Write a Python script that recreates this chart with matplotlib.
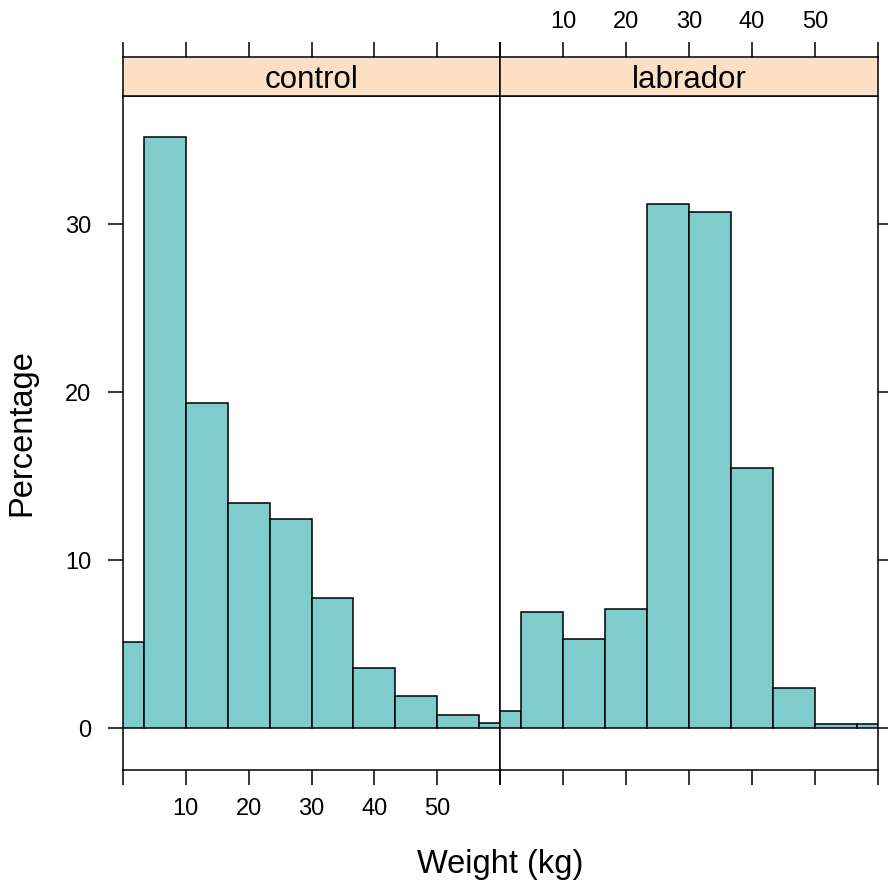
import numpy as np
import matplotlib.pyplot as plt

plt.rcParams['font.family'] = ['Liberation Sans', 'DejaVu Sans']

# data (percent of dogs per weight bin)
groups = ['control', 'labrador']
bin_edges = [-3.33, 3.33, 10.0, 16.67, 23.33, 30.0, 36.67, 43.33, 50.0, 56.67, 63.33]
control_pct = [5.1, 35.2, 19.35, 13.4, 12.45, 7.75, 3.55, 1.9, 0.77, 0.3]
labrador_pct = [1.0, 6.9, 5.3, 7.1, 31.2, 30.7, 15.5, 2.4, 0.24, 0.24]
x_ticks = [0, 10, 20, 30, 40, 50, 60]
x_labels = ['', '10', '20', '30', '40', '50', '']
y_ticks = [0, 10, 20, 30]

fill = '#7ECDCC'
strip_col = '#FDDFC5'
W, H = 888, 884


def box(l, t, r, b):
    # pixel box -> figure fraction
    return [l / W, 1 - b / H, (r - l) / W, (b - t) / H]


fig = plt.figure(figsize=(W / 100, H / 100), dpi=100)

panels = [(123, 500), (500, 878)]
series = [control_pct, labrador_pct]
lefts = np.array(bin_edges[:-1])
widths = np.diff(bin_edges)
tick_len = 10.5
lw = 1.1
tick_fs = 17

for k, (name, vals) in enumerate(zip(groups, series)):
    l, r = panels[k]
    ax = fig.add_axes(box(l, 96, r, 770))
    ax.bar(lefts, vals, width=widths, align='edge', color=fill,
           edgecolor='black', linewidth=lw)
    ax.set_xlim(0, 60)
    ax.set_ylim(-2.5, 37.62)
    for s in ax.spines.values():
        s.set_linewidth(lw)
    ax.set_xticks(x_ticks)
    ax.set_yticks(y_ticks)
    ax.tick_params(length=tick_len, width=lw, labelsize=tick_fs)
    ax.tick_params(axis='x', pad=9.5)
    ax.tick_params(axis='y', pad=12.5)
    if k == 0:
        ax.set_xticklabels(x_labels)
        ax.tick_params(axis='y', left=True, labelleft=True, right=False)
    else:
        ax.set_xticklabels([])
        ax.tick_params(axis='y', left=False, labelleft=False,
                       right=True, labelright=False)

    # strip on top of the panel
    st = fig.add_axes(box(l, 57, r, 96))
    st.set_facecolor(strip_col)
    st.set_xlim(0, 60)
    st.set_ylim(0, 1)
    st.set_yticks([])
    st.set_xticks(x_ticks)
    for s in st.spines.values():
        s.set_linewidth(lw)
    st.tick_params(axis='x', bottom=False, labelbottom=False, top=True,
                   length=tick_len, width=lw, labelsize=tick_fs, pad=6.5)
    if k == 1:
        st.tick_params(axis='x', labeltop=True)
        st.set_xticklabels(x_labels)
    else:
        st.tick_params(axis='x', labeltop=False)
    st.text(0.5, 0.205, name, transform=st.transAxes, ha='center',
            va='baseline', fontsize=22.5)

fig.text(22 / W, 1 - 433 / H, 'Percentage', rotation=90, ha='center',
         va='center', fontsize=23.5)
fig.text(500.5 / W, 1 - 873 / H, 'Weight (kg)', ha='center',
         va='baseline', fontsize=23.5)

fig.savefig('out.png', dpi=100)
